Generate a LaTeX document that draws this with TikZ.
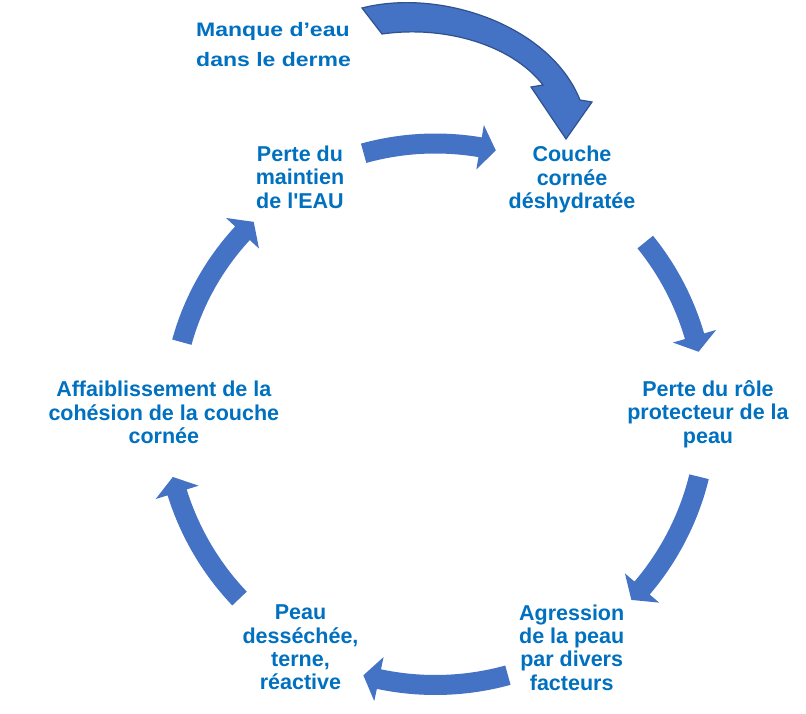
\documentclass[tikz,border=0pt]{standalone}
\usepackage{fontspec}
\setmainfont{Liberation Sans}
\newfontfamily\manquefont{Liberation Sans}[FakeStretch=1.18]
\definecolor{txtblue}{HTML}{0070C0}
\definecolor{arrblue}{HTML}{4472C4}
\definecolor{arredge}{HTML}{2F528F}
% #1 tail angle, #2 tip angle, #3 radius, #4 name
\newcommand\cycarrow[4]{%
  \pgfmathsetmacro\cyah{#2+16/#3*57.2958}%
  \pgfmathsetmacro\cyro{#3+10}%
  \pgfmathsetmacro\cyri{#3-10}%
  \pgfmathsetmacro\cyho{#3+22.5}%
  \pgfmathsetmacro\cyhi{#3-22.5}%
  \fill[cyarr] (#1:\cyro) coordinate (#4tail)
     arc[start angle=#1, end angle=\cyah, radius=\cyro]
     -- (\cyah:\cyho) -- (#2:#3) coordinate (#4tip) -- (\cyah:\cyhi) -- (\cyah:\cyri)
     arc[start angle=\cyah, end angle=#1, radius=\cyri] -- cycle;
}
\begin{document}
\begin{tikzpicture}[x=1pt,y=1pt,
  lbl/.style={text=txtblue, font=\fontsize{21.5}{23.4}\selectfont\bfseries, align=center, inner sep=0pt},
  cyarr/.style={fill=arrblue},
  bigarr/.style={fill=arrblue, draw=arredge, line width=1.2pt, line join=miter}]
\useasboundingbox (0,0) rectangle (806,713);
\fill[white] (0,0) rectangle (806,713);

% text nodes
\node[lbl] (couche) at (572,533.5) {Couche\\cornée\\déshydratée};
\node[lbl] (maintien) at (300,535.7) {Perte du\\maintien\\de l\textquotesingle EAU};
\node[lbl] (role) at (708,299) {Perte du rôle\\protecteur de la\\peau};
\node[lbl] (agression) at (571.7,65.4) {Agression\\de la peau\\par divers\\facteurs};
\node[lbl] (peau) at (300.5,65.4) {Peau\\desséchée,\\terne,\\réactive};
\node[lbl] (affai) at (163.8,300.4) {Affaiblissement de la\\cohésion de la couche\\cornée};
\node[text=txtblue, font=\fontsize{19.5}{30}\selectfont\manquefont\bfseries, align=left, inner sep=0pt, anchor=west] (manque) at (196,668.4) {Manque d’eau\\dans le derme};

% cycle arrows
\begin{scope}[shift={(435.4,301)}]
  \cycarrow{105.5}{77.0}{268.5}{aA}
  \cycarrow{39.0}{12.9}{270}{aB}
  \cycarrow{-13.8}{-43.8}{271.5}{aC}
  \cycarrow{-74.6}{-105.3}{273}{aD}
  \cycarrow{223.6}{193.9}{270.5}{aE}
  \cycarrow{164.6}{133.7}{263}{aF}
\end{scope}

% big arrow from "Manque d'eau" to "Couche cornée"
\draw[bigarr] (362,705) coordinate (bigtail)
   .. controls (440,725) and (550,688) .. (580,613)
   -- (592,611) -- (566,574) coordinate (bigtip) -- (531,626) -- (543,628)
   .. controls (512,668) and (445,688) .. (382,679) -- cycle;
\end{tikzpicture}
\end{document}
